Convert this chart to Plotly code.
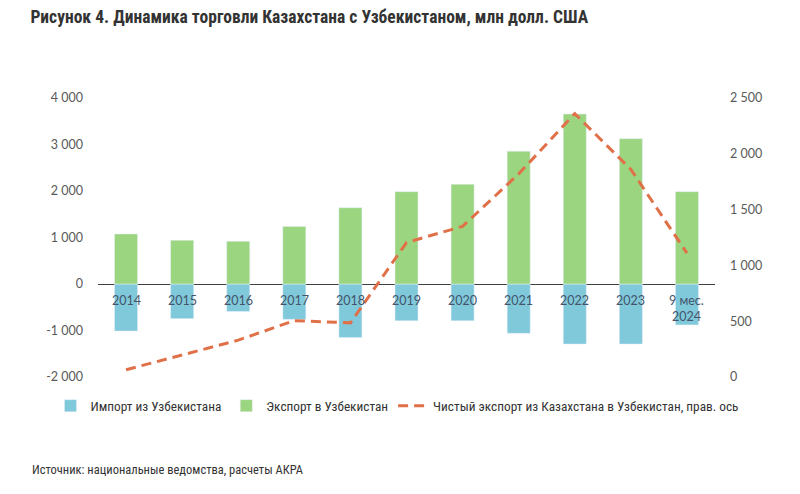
import plotly.graph_objects as go

categories = ["2014", "2015", "2016", "2017", "2018", "2019", "2020", "2021", "2022", "2023", "9 мес.<br>2024"]
imports = [-1010, -745, -590, -760, -1150, -790, -790, -1060, -1290, -1290, -880]
exports = [1075, 940, 920, 1235, 1640, 1985, 2145, 2855, 3655, 3125, 1985]
net_exports = [65, 195, 330, 505, 485, 1205, 1350, 1820, 2360, 1860, 1110]

left_ticks = [-2000, -1000, 0, 1000, 2000, 3000, 4000]
left_labels = ["-2 000", "-1 000", "0", "1 000", "2 000", "3 000", "4 000"]
right_ticks = [0, 500, 1000, 1500, 2000, 2500]
right_labels = ["0", "500", "1 000", "1 500", "2 000", "2 500"]

tick_font = dict(family="Lato, Open Sans, sans-serif", size=12.5, color="#595959")
cat_font = dict(family="Lato, Open Sans, sans-serif", size=12.5, color="#44546a")
narrow = "Liberation Sans Narrow, Roboto Condensed, Roboto, sans-serif"

fig = go.Figure()
fig.add_trace(go.Bar(x=categories, y=imports, name="Импорт из Узбекистана",
                     marker_color="#7fc9db", width=0.41))
fig.add_trace(go.Bar(x=categories, y=exports, name="Экспорт в Узбекистан",
                     marker_color="#9bd57f", width=0.41))
fig.add_trace(go.Scatter(x=categories, y=net_exports, yaxis="y2", mode="lines",
                         name="Чистый экспорт из Казахстана в Узбекистан, прав. ось",
                         line=dict(color="#e07048", width=3, dash="10px,6px")))

# category labels sit just under the zero line (positioned by category index)
for i, c in enumerate(categories):
    fig.add_annotation(x=i, y=0, xref="x", yref="y", text=c, showarrow=False,
                       yanchor="top", yshift=-7, font=cat_font)

fig.update_layout(
    width=800, height=494,
    paper_bgcolor="white", plot_bgcolor="white",
    barmode="relative",
    margin=dict(l=90, r=93, t=90, b=125, autoexpand=False),
    title=dict(text="<b>Рисунок 4. Динамика торговли Казахстана с Узбекистаном, млн долл. США</b>",
               x=0.028, xanchor="left", y=0.982, yanchor="middle",
               font=dict(family=narrow, size=17.5, color="#333333")),
    xaxis=dict(type="category", range=[-0.5, len(categories) - 0.5], showticklabels=False,
               showgrid=False, zeroline=False, showline=False, ticks=""),
    yaxis=dict(range=[-2000, 4000], tickvals=left_ticks, ticktext=left_labels,
               showgrid=False, zeroline=True, zerolinecolor="#404040", zerolinewidth=1,
               tickfont=tick_font, ticks="", ticklabelstandoff=14),
    yaxis2=dict(range=[0, 2500], tickvals=right_ticks, ticktext=right_labels,
                overlaying="y", side="right", showgrid=False, zeroline=False,
                tickfont=tick_font, ticks="", ticklabelstandoff=14),
    legend=dict(orientation="h", x=-0.077, xanchor="left", y=-0.104, yanchor="middle",
                font=dict(family=narrow, size=13.3, color="#333333"),
                traceorder="normal", itemwidth=30),
    showlegend=True,
)

fig.add_annotation(text="Источник: национальные ведомства, расчеты АКРА",
                   xref="paper", yref="paper", x=-0.11, y=-0.333, xanchor="left", yanchor="middle",
                   showarrow=False, font=dict(family=narrow, size=12.5, color="#333333"))

fig.write_html("out.html")
